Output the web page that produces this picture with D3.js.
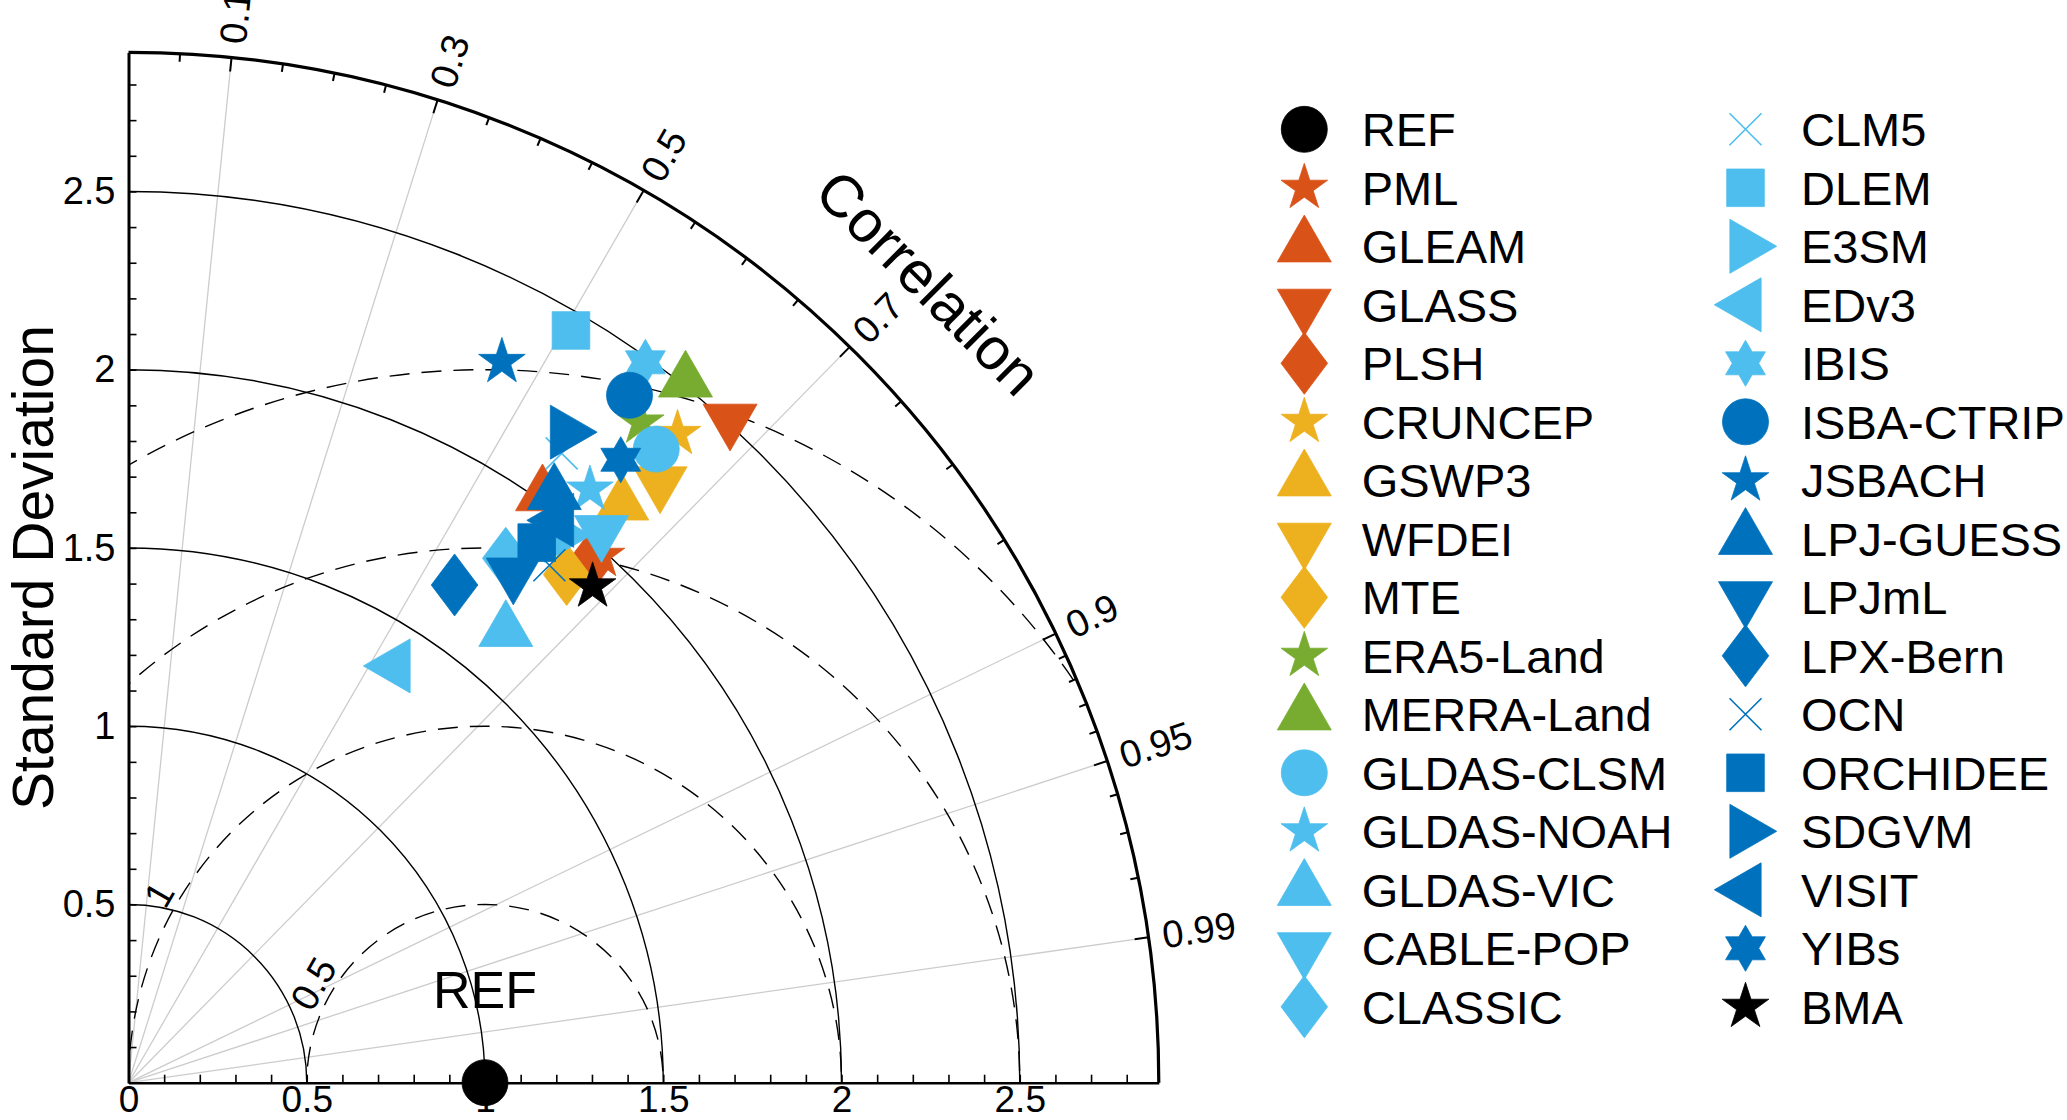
<!DOCTYPE html>
<html>
<head>
<meta charset="utf-8">
<script src="https://cdn.jsdelivr.net/npm/d3@7"></script>
<style>
html, body { margin: 0; padding: 0; background: #ffffff; }
svg { display: block; }
text { font-family: "Liberation Sans", Arial, Helvetica, sans-serif; fill: #000; }
</style>
</head>
<body>
<svg id="chart" width="2067" height="1120"></svg>
<script>
// ---------------- DATA ----------------
const models = ["REF","PML","GLEAM","GLASS","PLSH","CRUNCEP","GSWP3","WFDEI","MTE",
  "ERA5-Land","MERRA-Land","GLDAS-CLSM","GLDAS-NOAH","GLDAS-VIC","CABLE-POP","CLASSIC",
  "CLM5","DLEM","E3SM","EDv3","IBIS","ISBA-CTRIP","JSBACH","LPJ-GUESS","LPJmL","LPX-Bern",
  "OCN","ORCHIDEE","SDGVM","VISIT","YIBs","BMA"];
const stdDev = [1.000,1.986,2.016,2.511,1.942,2.384,2.132,2.249,1.882,
  2.344,2.512,2.313,2.108,1.651,2.038,1.812,
  2.143,2.448,1.955,1.387,2.487,2.386,2.277,2.038,1.790,1.669,
  1.871,1.899,2.199,1.985,2.227,1.906];
const correlation = [1.000,0.668,0.576,0.672,0.664,0.646,0.649,0.663,0.653,
  0.613,0.622,0.640,0.614,0.641,0.651,0.584,
  0.567,0.507,0.619,0.538,0.583,0.589,0.460,0.586,0.603,0.548,
  0.631,0.603,0.558,0.607,0.620,0.683];
const seriesSymbol = ["circle","pentagram","up","down","diamond","pentagram","up","down","diamond",
  "pentagram","up","circle","pentagram","up","down","diamond",
  "x","square","right","left","hexagram","circle","pentagram","up","down","diamond",
  "x","square","right","left","hexagram","pentagram"];
const seriesColor = ["#000000","#D95319","#D95319","#D95319","#D95319","#EDB120","#EDB120","#EDB120","#EDB120",
  "#77AC30","#77AC30","#4DBEEE","#4DBEEE","#4DBEEE","#4DBEEE","#4DBEEE",
  "#4DBEEE","#4DBEEE","#4DBEEE","#4DBEEE","#4DBEEE","#0072BD","#0072BD","#0072BD","#0072BD","#0072BD",
  "#0072BD","#0072BD","#0072BD","#0072BD","#0072BD","#000000"];

const stdMax = 2.89;
const stdArcs = [0.5, 1, 1.5, 2, 2.5];
const axisTickValues = d3.range(0, 29).map(i => i / 10);
const xTickLabels = {"0":"0","5":"0.5","10":"1","15":"1.5","20":"2","25":"2.5"};
const yTickLabels = {"5":"0.5","10":"1","15":"1.5","20":"2","25":"2.5"};
const corrTicks = [0.1, 0.3, 0.5, 0.7, 0.9, 0.95, 0.99];
const corrTickLabels = ["0.1","0.3","0.5","0.7","0.9","0.95","0.99"];
const corrMinorTicks = [0.05,0.15,0.2,0.25,0.35,0.4,0.45,0.55,0.6,0.65,0.75,0.8,0.85,
  0.91,0.92,0.93,0.94,0.96,0.97,0.98];
const rmsContours = [0.5, 1, 1.5, 2];
const rmsLabelValues = [0.5, 1];
const rmsLabels = ["0.5", "1"];

// ---------------- LAYOUT ----------------
const svg = d3.select("#chart");
const ox = 128.5, oy = 1082.7, plotR = 1030.3;
const rs = d3.scaleLinear().domain([0, stdMax]).range([0, plotR]);
const xs = d3.scaleLinear().domain([0, stdMax]).range([ox, ox + plotR]);
const ys = d3.scaleLinear().domain([0, stdMax]).range([oy, oy - plotR]);
const px = (s, c) => xs(s * c);
const py = (s, c) => ys(s * Math.sqrt(Math.max(0, 1 - c * c)));

// clip to the quarter disk
svg.append("defs").append("clipPath").attr("id", "quad")
  .append("path")
  .attr("transform", `translate(${ox},${oy})`)
  .attr("d", d3.arc()({innerRadius: 0, outerRadius: plotR, startAngle: 0, endAngle: Math.PI / 2}));

function arcPath(cx, cy, rad, a0, a1) {
  const p = d3.path();
  p.moveTo(cx + rad * Math.cos(a0), cy + rad * Math.sin(a0));
  p.arc(cx, cy, rad, a0, a1);
  return p.toString();
}

// grey correlation rays
svg.append("g").selectAll("line").data(corrTicks).join("line")
  .attr("x1", ox).attr("y1", oy)
  .attr("x2", c => px(stdMax, c)).attr("y2", c => py(stdMax, c))
  .attr("stroke", "#cccccc").attr("stroke-width", 1.3);

// std arcs
svg.append("g").selectAll("path").data(stdArcs).join("path")
  .attr("d", s => arcPath(ox, oy, rs(s), -Math.PI / 2, 0))
  .attr("fill", "none").attr("stroke", "#000").attr("stroke-width", 1.4);

// RMS dashed circles
svg.append("g").attr("clip-path", "url(#quad)")
  .selectAll("circle").data(rmsContours).join("circle")
  .attr("cx", xs(1)).attr("cy", ys(0)).attr("r", d => rs(d))
  .attr("fill", "none").attr("stroke", "#000").attr("stroke-width", 1.4)
  .attr("stroke-dasharray", "20,12");

// RMS labels
svg.append("g").selectAll("text").data(rmsLabelValues).join("text")
  .attr("transform", (d) => {
    const a = 150 * Math.PI / 180, rr = d + 0.055;
    const x = xs(1 + rr * Math.cos(a)), y = ys(rr * Math.sin(a));
    return `translate(${x},${y}) rotate(-60)`;
  })
  .attr("text-anchor", "middle").attr("dominant-baseline", "central")
  .attr("font-size", 38).text((d, i) => rmsLabels[i]);

// axes
const xAxis = d3.axisBottom(xs).tickValues(axisTickValues)
  .tickFormat(d => xTickLabels[String(Math.round(d * 10))] || "")
  .tickSizeInner(-8).tickSizeOuter(0).tickPadding(3);
const gx = svg.append("g").attr("transform", `translate(0,${oy})`).call(xAxis);
gx.select(".domain").attr("stroke", "#000").attr("stroke-width", 2.6);
gx.selectAll(".tick line").attr("stroke", "#000").attr("stroke-width", 1.6);
gx.selectAll(".tick text").attr("font-size", 37).attr("font-family", '"Liberation Sans", Arial, sans-serif').attr("fill", "#000");

const yAxis = d3.axisLeft(ys).tickValues(axisTickValues)
  .tickFormat(d => yTickLabels[String(Math.round(d * 10))] || "")
  .tickSizeInner(-8).tickSizeOuter(0).tickPadding(13);
const gy = svg.append("g").attr("transform", `translate(${ox},0)`).call(yAxis);
gy.select(".domain").attr("stroke", "#000").attr("stroke-width", 3);
gy.selectAll(".tick line").attr("stroke", "#000").attr("stroke-width", 1.6);
gy.selectAll(".tick text").attr("font-size", 38).attr("font-family", '"Liberation Sans", Arial, sans-serif').attr("fill", "#000");

// outer arc
svg.append("path").attr("d", arcPath(ox, oy, plotR, -Math.PI / 2, 0))
  .attr("fill", "none").attr("stroke", "#000").attr("stroke-width", 3.2);

// correlation ticks
const ct = svg.append("g");
ct.selectAll("line.maj").data(corrTicks).join("line").attr("class", "maj")
  .attr("x1", c => px(stdMax, c)).attr("y1", c => py(stdMax, c))
  .attr("x2", c => ox + (plotR - 14) * c).attr("y2", c => oy - (plotR - 14) * Math.sqrt(1 - c * c))
  .attr("stroke", "#000").attr("stroke-width", 2);
ct.selectAll("line.min").data(corrMinorTicks).join("line").attr("class", "min")
  .attr("x1", c => px(stdMax, c)).attr("y1", c => py(stdMax, c))
  .attr("x2", c => ox + (plotR - 8) * c).attr("y2", c => oy - (plotR - 8) * Math.sqrt(1 - c * c))
  .attr("stroke", "#000").attr("stroke-width", 2);

// correlation labels
svg.append("g").selectAll("text").data(corrTicks).join("text")
  .attr("transform", c => {
    const a = Math.acos(c), rr = plotR + 14;
    return `translate(${ox + rr * Math.cos(a)},${oy - rr * Math.sin(a)}) rotate(${-a * 180 / Math.PI})`;
  })
  .attr("text-anchor", "start").attr("dominant-baseline", "central")
  .attr("font-size", 38).text((c, i) => corrTickLabels[i]);

// axis titles
svg.append("text")
  .attr("transform", `translate(${ox + 1131 * Math.cos(Math.PI / 4)},${oy - 1131 * Math.sin(Math.PI / 4)}) rotate(45)`)
  .attr("text-anchor", "middle").attr("dominant-baseline", "central")
  .attr("font-size", 59).text("Correlation");
svg.append("text")
  .attr("transform", `translate(53,${ys(stdMax / 2)}) rotate(-90)`)
  .attr("text-anchor", "middle")
  .attr("font-size", 57).text("Standard Deviation");
svg.append("text")
  .attr("x", xs(1)).attr("y", 1008)
  .attr("text-anchor", "middle").attr("font-size", 52).text("REF");

// ---------------- SYMBOLS ----------------
function poly(ctx, pts) {
  ctx.moveTo(pts[0][0], pts[0][1]);
  for (let k = 1; k < pts.length; k++) ctx.lineTo(pts[k][0], pts[k][1]);
  ctx.closePath();
}
const triA = 54, triH = 46.8;
const shapeTypes = {
  circle: {draw(ctx) { ctx.moveTo(23, 0); ctx.arc(0, 0, 23, 0, 2 * Math.PI); ctx.closePath(); }},
  square: {draw(ctx) { poly(ctx, [[-18.8,-18.8],[18.8,-18.8],[18.8,18.8],[-18.8,18.8]]); }},
  diamond: {draw(ctx) { poly(ctx, [[0,-31],[23.3,0],[0,31],[-23.3,0]]); }},
  up: {draw(ctx) { poly(ctx, [[0,-2*triH/3],[triA/2,triH/3],[-triA/2,triH/3]]); }},
  down: {draw(ctx) { poly(ctx, [[0,2*triH/3],[triA/2,-triH/3],[-triA/2,-triH/3]]); }},
  right: {draw(ctx) { poly(ctx, [[2*triH/3,0],[-triH/3,-triA/2],[-triH/3,triA/2]]); }},
  left: {draw(ctx) { poly(ctx, [[-2*triH/3,0],[triH/3,-triA/2],[triH/3,triA/2]]); }},
  pentagram: {draw(ctx) {
    const R = 24.5, r = R * 0.382, pts = [];
    for (let k = 0; k < 10; k++) { const a = -Math.PI / 2 + k * Math.PI / 5, q = k % 2 ? r : R; pts.push([q * Math.cos(a), q * Math.sin(a)]); }
    poly(ctx, pts);
  }},
  hexagram: {draw(ctx) {
    const R = 23, r = R / Math.sqrt(3), pts = [];
    for (let k = 0; k < 12; k++) { const a = -Math.PI / 2 + k * Math.PI / 6, q = k % 2 ? r : R; pts.push([q * Math.cos(a), q * Math.sin(a)]); }
    poly(ctx, pts);
  }},
  x: {draw(ctx) { ctx.moveTo(-16,-16); ctx.lineTo(16,16); ctx.moveTo(16,-16); ctx.lineTo(-16,16); }}
};
const symbolGen = d3.symbol();
function styleMarker(sel) {
  sel.attr("d", i => symbolGen.type(shapeTypes[seriesSymbol[i]])())
    .attr("fill", i => seriesSymbol[i] === "x" ? "none" : seriesColor[i])
    .attr("stroke", i => seriesColor[i])
    .attr("stroke-width", i => seriesSymbol[i] === "x" ? 1.6 : 0.8);
}

// data markers
svg.append("g").selectAll("path").data(d3.range(models.length)).join("path")
  .attr("transform", i => `translate(${px(stdDev[i], correlation[i])},${py(stdDev[i], correlation[i])})`)
  .call(styleMarker);

// ---------------- LEGEND ----------------
const perCol = 16, rowY0 = 129.3, rowDy = 58.5;
const colMarkerX = [1304.3, 1745.5], colTextX = [1361.7, 1801];
const leg = svg.append("g");
const rows = leg.selectAll("g").data(d3.range(models.length)).join("g")
  .attr("transform", i => `translate(0,${rowY0 + (i % perCol) * rowDy})`);
rows.append("path")
  .attr("transform", i => `translate(${colMarkerX[Math.floor(i / perCol)]},0)`)
  .call(styleMarker);
rows.append("text")
  .attr("x", i => colTextX[Math.floor(i / perCol)]).attr("y", 17)
  .attr("font-size", 47).text(i => models[i]);
</script>
</body>
</html>
